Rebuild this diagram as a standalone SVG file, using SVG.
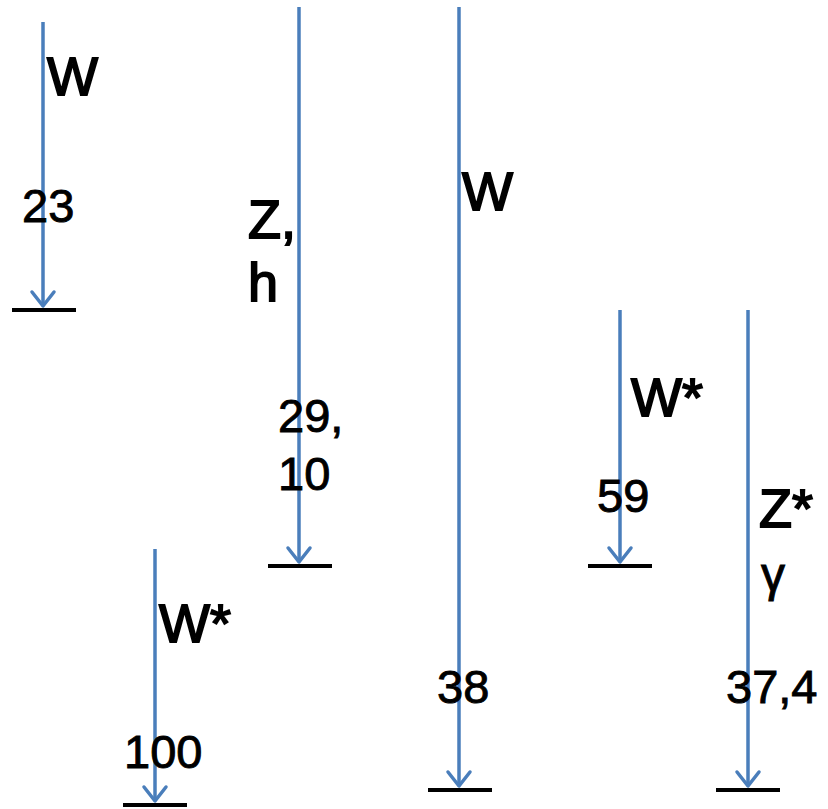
<svg xmlns="http://www.w3.org/2000/svg" width="828" height="809" viewBox="0 0 828 809">
<style>
.ln{stroke:#4a7ebb;stroke-width:3.5;fill:none}
.hd{stroke:#4a7ebb;stroke-width:3.5;fill:none;stroke-linecap:round;stroke-linejoin:round}
.bar{stroke:#000;stroke-width:4}
.lt{font-family:"Liberation Sans",Arial,sans-serif;font-size:54px;fill:#000;stroke:#000;stroke-width:1.8}
.dg{font-family:"Liberation Sans",Arial,sans-serif;font-size:47px;fill:#000;stroke:#000;stroke-width:0.9}
</style>
<rect width="828" height="809" fill="#fff"/>
<g id="connectors">
  <line class="ln" x1="43" y1="22" x2="43" y2="306"/>
  <polyline class="hd" points="32,292 43,306 54,292"/>
  <line class="ln" x1="299" y1="7" x2="299" y2="562"/>
  <polyline class="hd" points="288,548 299,562 310,548"/>
  <line class="ln" x1="459" y1="7" x2="459" y2="786"/>
  <polyline class="hd" points="448,772 459,786 470,772"/>
  <line class="ln" x1="620" y1="310" x2="620" y2="562"/>
  <polyline class="hd" points="609,548 620,562 631,548"/>
  <line class="ln" x1="748" y1="310" x2="748" y2="786"/>
  <polyline class="hd" points="737,772 748,786 759,772"/>
  <line class="ln" x1="155" y1="549" x2="155" y2="801"/>
  <polyline class="hd" points="144,787 155,801 166,787"/>
</g>
<g id="level1">
  <line class="bar" x1="12" y1="310" x2="76" y2="310"/>
  <text class="lt" x="47" y="95">W</text>
  <text class="dg" x="22" y="222">23</text>
</g>
<g id="level2">
  <line class="bar" x1="268" y1="566" x2="332" y2="566"/>
  <text class="lt" x="248" y="238">Z,</text>
  <text class="lt" x="248" y="301">h</text>
  <text class="dg" x="278" y="432">29,</text>
  <text class="dg" x="278" y="490">10</text>
</g>
<g id="level3">
  <line class="bar" x1="428" y1="790" x2="492" y2="790"/>
  <text class="lt" x="462" y="210">W</text>
  <text class="dg" x="437" y="703">38</text>
</g>
<g id="level4">
  <line class="bar" x1="588" y1="566" x2="652" y2="566"/>
  <text class="lt" x="631" y="416">W*</text>
  <text class="dg" x="597" y="512">59</text>
</g>
<g id="level5">
  <line class="bar" x1="716" y1="790" x2="780" y2="790"/>
  <text class="lt" x="759" y="527">Z*</text>
  <text class="lt" x="761" y="591" style="font-size:48px;stroke-width:1">γ</text>
  <text class="dg" x="726" y="703">37,4</text>
</g>
<g id="level6">
  <line class="bar" x1="123" y1="805" x2="187" y2="805"/>
  <text class="lt" x="159" y="642">W*</text>
  <text class="dg" x="124" y="768">100</text>
</g>
</svg>
